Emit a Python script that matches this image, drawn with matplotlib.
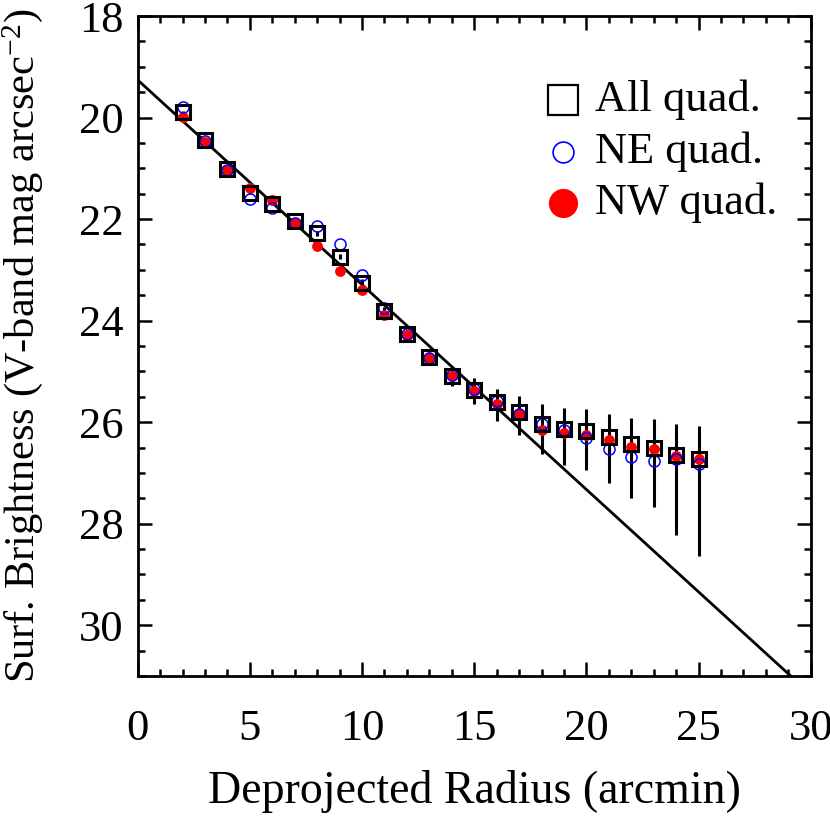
import numpy as np
import matplotlib
matplotlib.use("Agg")
import matplotlib.pyplot as plt
from matplotlib.ticker import MultipleLocator

plt.rcParams['font.family'] = ['Liberation Serif', 'DejaVu Serif']
plt.rcParams['mathtext.fontset'] = 'custom'
plt.rcParams['mathtext.rm'] = 'Liberation Serif'
plt.rcParams['mathtext.it'] = 'Liberation Serif:italic'

# ---- data ----
radius = [2, 3, 4, 5, 6, 7, 8, 9, 10, 11, 12, 13, 14, 15, 16, 17, 18, 19, 20, 21, 22, 23, 24, 25]
sb_all = [19.89, 20.44, 21.01, 21.48, 21.70, 22.03, 22.28, 22.74, 23.25, 23.81, 24.27, 24.72,
          25.09, 25.36, 25.61, 25.80, 26.03, 26.14, 26.18, 26.30, 26.43, 26.50, 26.64, 26.73]
err_up = [0.02, 0.02, 0.03, 0.03, 0.03, 0.04, 0.05, 0.05, 0.06, 0.07, 0.08, 0.10,
          0.15, 0.22, 0.27, 0.32, 0.39, 0.42, 0.43, 0.47, 0.52, 0.56, 0.60, 0.65]
err_down = [0.02, 0.02, 0.03, 0.03, 0.03, 0.04, 0.05, 0.05, 0.06, 0.07, 0.09, 0.12,
            0.20, 0.29, 0.37, 0.46, 0.60, 0.71, 0.77, 0.89, 1.07, 1.18, 1.58, 1.90]
sb_ne = [19.79, 20.46, 21.03, 21.60, 21.79, 22.08, 22.14, 22.50, 23.10, 23.75, 24.27, 24.74,
         25.08, 25.35, 25.58, 25.83, 26.03, 26.16, 26.32, 26.53, 26.69, 26.77, 26.73, 26.82]
sb_nw = [19.98, 20.49, 21.03, 21.39, 21.62, 22.08, 22.53, 23.02, 23.40, 23.89, 24.29, 24.74,
         25.09, 25.38, 25.65, 25.84, 26.16, 26.22, 26.26, 26.36, 26.49, 26.53, 26.67, 26.73]
fit_intercept = 19.26
fit_slope = 0.4033
legend_labels = ["All quad.", "NE quad.", "NW quad."]

# ---- figure ----
W, H = 830, 816
fig = plt.figure(figsize=(W / 100, H / 100), dpi=100)
L, R, T, B = 137.7, 810.7, 16, 676
ax = fig.add_axes([L / W, 1 - B / H, (R - L) / W, (B - T) / H])

xf = np.array([0, 30])
ax.plot(xf, fit_intercept + fit_slope * xf, color='black', lw=2.0, zorder=1)

ax.errorbar(radius, sb_all, yerr=[err_up, err_down], fmt='none', ecolor='black',
            elinewidth=2.2, capsize=0, zorder=2)
ax.plot(radius, sb_nw, 'o', color='red', ms=7.8, mec='red', mew=0, ls='none', zorder=3)
ax.plot(radius, sb_ne, 'o', mfc='none', mec='blue', ms=8.0, mew=1.1, ls='none', zorder=4)
ax.plot(radius, sb_all, 's', mfc='none', mec='black', ms=10, mew=2.2, ls='none', zorder=5)

ax.set_xlim(0, 30)
ax.set_ylim(31, 18)
ax.xaxis.set_major_locator(MultipleLocator(5))
ax.xaxis.set_minor_locator(MultipleLocator(1))
ax.yaxis.set_major_locator(MultipleLocator(2))
ax.yaxis.set_minor_locator(MultipleLocator(0.5))
ax.tick_params(which='both', direction='in', top=True, right=True, width=1.8, colors='black')
ax.tick_params(which='major', length=10)
ax.tick_params(which='minor', length=5)
ax.tick_params(axis='x', which='major', labelsize=32, pad=24)
ax.tick_params(axis='y', which='major', labelsize=32, pad=10)
for s in ax.spines.values():
    s.set_linewidth(2.0)

ax.set_xlabel("Deprojected Radius (arcmin)", fontsize=33)
ax.xaxis.set_label_coords(0.5, -0.142)
ax.set_ylabel(r"Surf. Brightness (V-band mag arcsec$^{-2}$)", fontsize=30.5)
ax.yaxis.set_label_coords(-0.138, 0.5)

# legend (manual placement)
mx, tx = 0.632, 0.68
ys = [0.873, 0.794, 0.717]
ax.plot([mx], [ys[0]], 's', mfc='none', mec='black', ms=21, mew=1.6, transform=ax.transAxes, clip_on=False)
ax.plot([mx], [ys[1]], 'o', mfc='none', mec='blue', ms=15, mew=1.2, transform=ax.transAxes, clip_on=False)
ax.plot([mx], [ys[2]], 'o', color='red', ms=21, mew=0, transform=ax.transAxes, clip_on=False)
for y, lab in zip(ys, legend_labels):
    ax.text(tx, y, lab, transform=ax.transAxes, fontsize=32, va='center', ha='left')

fig.savefig("out.png", dpi=100)
